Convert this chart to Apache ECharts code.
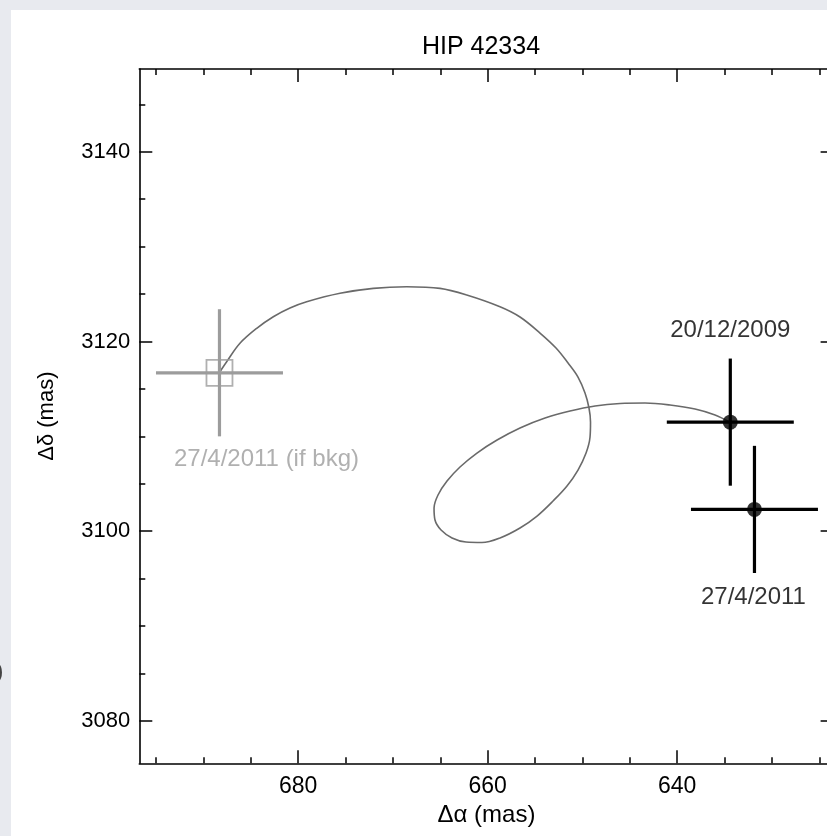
<!DOCTYPE html>
<html>
<head>
<meta charset="utf-8">
<script src="https://cdn.jsdelivr.net/npm/echarts@6/dist/echarts.min.js"></script>
<style>
html,body{margin:0;padding:0;background:#ffffff;}
#chart{width:827px;height:836px;}
</style>
</head>
<body>
<div id="chart"></div>
<script>
// ---- data ----
const chartTitle = 'HIP 42334';
const xName = 'Δα (mas)';
const yName = 'Δδ (mas)';
const xMajorTicks = [680, 660, 640];
const xMinorTicks = [695, 690, 685, 680, 675, 670, 665, 660, 655, 650, 645, 640, 635, 630, 625];
const yMajorTicks = [3140, 3120, 3100, 3080];
const yMinorTicks = [3145, 3140, 3135, 3130, 3125, 3120, 3115, 3110, 3105, 3100, 3095, 3090, 3085, 3080];
const xRange = [623.5, 696.76];
const yRange = [3075.54, 3148.72];

// predicted background track (from bkg position to first epoch)
const trackRA  = [688.32, 687.54, 686.14, 684.37, 682.62, 680.86, 679.10, 675.58, 672.07, 668.54,
                  665.03, 662.21, 658.70, 656.59, 654.48, 652.79, 651.52, 650.47, 649.73, 649.31,
                  649.15, 649.20, 649.62, 650.47, 651.63, 653.10, 654.79, 656.59, 658.70, 660.60,
                  662.29, 663.76, 664.92, 665.56, 665.66, 665.24, 664.29, 662.92, 661.13, 659.01,
                  656.59, 653.95, 651.31, 648.67, 646.03, 643.40, 640.76, 638.12, 636.01, 634.43];
const trackDec = [3116.71, 3117.87, 3119.81, 3121.39, 3122.61, 3123.53, 3124.19, 3125.08, 3125.60, 3125.77,
                  3125.60, 3124.90, 3123.66, 3122.58, 3120.89, 3119.31, 3117.73, 3116.25, 3114.57, 3112.99,
                  3111.51, 3109.93, 3108.24, 3106.45, 3104.77, 3103.19, 3101.60, 3100.34, 3099.29, 3098.81,
                  3098.86, 3099.29, 3100.13, 3101.18, 3102.45, 3103.82, 3105.29, 3106.77, 3108.24, 3109.61,
                  3110.88, 3111.93, 3112.67, 3113.20, 3113.46, 3113.51, 3113.30, 3112.88, 3112.25, 3111.48];

// observed positions
const obsLabels = ['20/12/2009', '27/4/2011'];
const obsRA = [634.4, 631.85];
const obsDec = [3111.5, 3102.3];
const obsErrRA = [6.7, 6.7];
const obsErrDec = [6.7, 6.7];

// predicted position if background
const bkgLabels = ['27/4/2011 (if bkg)'];
const bkgRA = [688.3];
const bkgDec = [3116.7];
const bkgErrRA = [6.7];
const bkgErrDec = [6.7];

// ---- styles ----
const FONT = "'Liberation Sans', Arial, Helvetica, sans-serif";
const GREY = '#9c9c9c';
const obsLabelOffsets = [[0, -92], [-1, 88]];
const bkgLabelOffsets = [[47, 87]];

const chart = echarts.init(document.getElementById('chart'), null, {renderer: 'canvas'});

function errBarRender(color) {
  return function (params, api) {
    const x = api.value(0), y = api.value(1), ex = api.value(2), ey = api.value(3);
    const l = api.coord([x - ex, y]), r = api.coord([x + ex, y]);
    const t = api.coord([x, y + ey]), b = api.coord([x, y - ey]);
    const st = {stroke: color, lineWidth: 3.2};
    return {type: 'group', children: [
      {type: 'line', shape: {x1: l[0], y1: l[1], x2: r[0], y2: r[1]}, style: st},
      {type: 'line', shape: {x1: t[0], y1: t[1], x2: b[0], y2: b[1]}, style: st}
    ]};
  };
}

const plain = v => String(v);

function xAxisCfg(pos, major, withLabel) {
  return {
    type: 'value', position: pos, min: xRange[0], max: xRange[1], inverse: true,
    axisLine: {show: major, onZero: false, lineStyle: {color: '#000', width: 1.6}},
    splitLine: {show: false},
    axisTick: {show: true, inside: true, length: major ? 13 : 6,
      customValues: major ? xMajorTicks : xMinorTicks, lineStyle: {color: '#000', width: 1.5}},
    axisLabel: {show: withLabel, customValues: xMajorTicks, formatter: plain, color: '#000', fontSize: 23, fontFamily: FONT, margin: 12},
    name: withLabel ? xName : '', nameLocation: 'middle', nameGap: 31,
    nameTextStyle: {color: '#000', fontSize: 24, fontFamily: FONT}
  };
}
function yAxisCfg(pos, major, withLabel) {
  return {
    type: 'value', position: pos, min: yRange[0], max: yRange[1],
    axisLine: {show: major, onZero: false, lineStyle: {color: '#000', width: 1.6}},
    splitLine: {show: false},
    axisTick: {show: true, inside: true, length: major ? 13 : 6,
      customValues: major ? yMajorTicks : yMinorTicks, lineStyle: {color: '#000', width: 1.5}},
    axisLabel: {show: withLabel, customValues: yMajorTicks, formatter: plain, color: '#000', fontSize: 22, fontFamily: FONT, margin: 9},
    name: withLabel ? yName : '', nameLocation: 'middle', nameGap: 81, nameRotate: 90,
    nameTextStyle: {color: '#000', fontSize: 22, fontFamily: FONT}
  };
}

const option = {
  backgroundColor: '#ffffff',
  animation: false,
  grid: {left: 139.3, top: 69, width: 694.3, height: 694.3, containLabel: false, outerBoundsMode: 'none'},
  xAxis: [xAxisCfg('bottom', true, true), xAxisCfg('bottom', false, false), xAxisCfg('top', true, false), xAxisCfg('top', false, false)],
  yAxis: [yAxisCfg('left', true, true), yAxisCfg('left', false, false), yAxisCfg('right', true, false), yAxisCfg('right', false, false)],
  graphic: {elements: [
    {type: 'rect', left: 0, top: 0, shape: {width: 827, height: 10}, style: {fill: '#e8eaef'}, silent: true},
    {type: 'rect', left: 0, top: 0, shape: {width: 11, height: 836}, style: {fill: '#e8eaef'}, silent: true},
    {type: 'text', x: -4, y: 672, style: {text: ')', fill: '#444', font: '22px ' + FONT, textVerticalAlign: 'middle'}, silent: true},
    {type: 'text', x: 481, y: 47, style: {text: chartTitle, fill: '#000', font: '25px ' + FONT, textAlign: 'center', textVerticalAlign: 'middle'}}
  ]},
  series: [
    {
      type: 'line', xAxisIndex: 0, yAxisIndex: 0, z: 2,
      data: trackRA.map((x, i) => [x, trackDec[i]]),
      smooth: 0.35, symbol: 'none', clip: false,
      lineStyle: {color: '#6a6a6a', width: 1.6}
    },
    {
      type: 'custom', xAxisIndex: 0, yAxisIndex: 0, z: 3,
      renderItem: errBarRender(GREY), encode: {x: 0, y: 1},
      data: bkgRA.map((x, i) => [x, bkgDec[i], bkgErrRA[i], bkgErrDec[i]])
    },
    {
      type: 'scatter', xAxisIndex: 0, yAxisIndex: 0, z: 4,
      symbol: 'rect', symbolSize: 26,
      itemStyle: {color: 'rgba(0,0,0,0)', borderColor: GREY, borderWidth: 1.8},
      data: bkgRA.map((x, i) => ({value: [x, bkgDec[i]], label: {offset: bkgLabelOffsets[i]}})),
      label: {show: true, position: 'inside', formatter: p => bkgLabels[p.dataIndex], color: GREY, fontSize: 24, fontFamily: FONT}
    },
    {
      type: 'custom', xAxisIndex: 0, yAxisIndex: 0, z: 5,
      renderItem: errBarRender('#000'), encode: {x: 0, y: 1},
      data: obsRA.map((x, i) => [x, obsDec[i], obsErrRA[i], obsErrDec[i]])
    },
    {
      type: 'scatter', xAxisIndex: 0, yAxisIndex: 0, z: 6,
      symbol: 'circle', symbolSize: 15,
      itemStyle: {color: '#000'},
      data: obsRA.map((x, i) => ({value: [x, obsDec[i]], label: {offset: obsLabelOffsets[i]}})),
      label: {show: true, position: 'inside', formatter: p => obsLabels[p.dataIndex], color: '#000', fontSize: 24, fontFamily: FONT}
    }
  ]
};
chart.setOption(option);
</script>
</body>
</html>
